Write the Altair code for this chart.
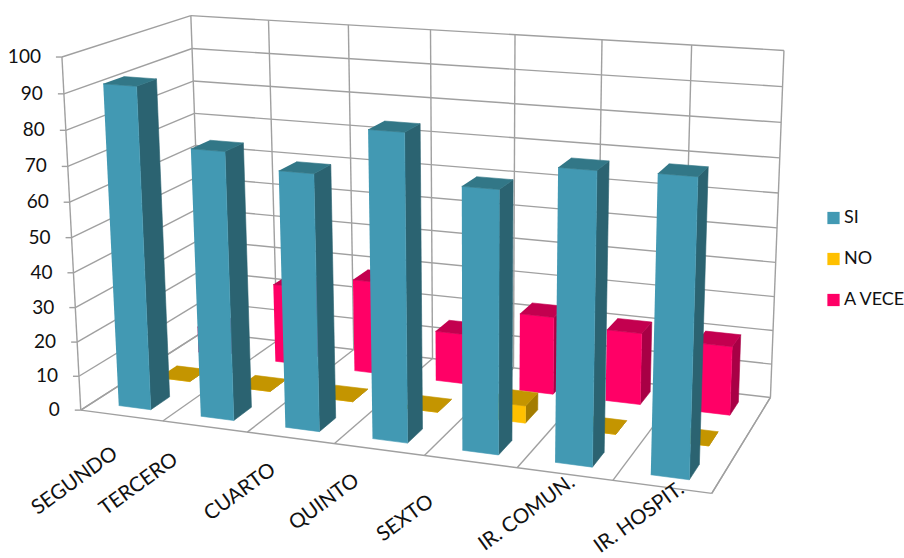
import altair as alt
import numpy as np
import pandas as pd

categories = ["SEGUNDO", "TERCERO", "CUARTO", "QUINTO", "SEXTO", "IR. COMUN.", "IR. HOSPIT."]
series_names = ["SI", "NO", "A VECES"]
si_values = [92, 76, 72, 85, 72, 79, 79.5]
no_values = [0, 0, 0, 0, 5, 0, 0]
a_veces_values = [8, 24, 28, 15, 23, 21, 20]
value_ticks = list(range(0, 101, 10))

face_colors = {
    "SI": ("#4299B3", "#2B6371", "#327787"),
    "NO": ("#FFC000", "#A37C00", "#C49500"),
    "A VECES": ("#FF0066", "#A80045", "#C3004F"),
}
legend_rows = [("SI", 218), ("NO", 259), ("A VECES", 300)]
# Hand-tuned nudges of the slanted category captions from their slot centres.
caption_nudge = [(-6, 36), (-29, 31), (-17, 30), (-22, 29), (-39, 38), (8, 6), (20, 0)]

# Camera: box coordinates (u along categories, v in depth, w in height) to pixels.
anchors = [
    ((0, 0, 0), (78.3, 410)), ((1, 0, 0), (711, 494.3)), ((1, 1, 0), (770, 397.3)),
    ((0, 1, 0), (204, 332.5)), ((0, 0, 1), (63.3, 57.3)), ((0, 1, 1), (190.3, 14.7)),
    ((1, 1, 1), (784.3, 50.3)),
    ((1 / 7, 0, 0), (163, 421)), ((2 / 7, 0, 0), (248, 432)), ((3 / 7, 0, 0), (335, 443)),
    ((4 / 7, 0, 0), (424, 455)), ((5 / 7, 0, 0), (518, 468)), ((6 / 7, 0, 0), (613, 480)),
    ((1 / 7, 1, 1), (268, 20)), ((2 / 7, 1, 1), (348, 26)), ((3 / 7, 1, 1), (430, 31)),
    ((4 / 7, 1, 1), (515, 34)), ((5 / 7, 1, 1), (602, 39)), ((6 / 7, 1, 1), (692, 45)),
]
rows = []
for (u, v, w), (px, py) in anchors:
    rows.append([u, v, w, 1, 0, 0, 0, 0, -px * u, -px * v, -px * w, px])
    rows.append([0, 0, 0, 0, u, v, w, 1, -py * u, -py * v, -py * w, py])
design = np.array(rows, dtype=float)
solution = np.linalg.lstsq(design[:, :11], design[:, 11], rcond=None)[0]
camera = np.append(solution, 1.0).reshape(3, 4)


def project(u, v, w):
    x, y, z = camera @ np.array([u, v, w, 1.0])
    return x / z, y / z


BAR_CENTRES = {"SI": 0.515, "NO": 0.49, "A VECES": 0.5}
BAR_HALF_WIDTH = 0.197 / 7
BAR_HALF_DEPTH = 0.075

polygon_rows = []
face_count = 0


def add_face(corners, colour):
    global face_count
    for i, corner in enumerate(corners):
        x, y = project(*corner)
        polygon_rows.append({"face": face_count, "order": i, "x": x, "y": y, "colour": colour})
    face_count += 1


all_values = {"SI": si_values, "NO": no_values, "A VECES": a_veces_values}
# Painter's order: rear series first, left to right within a series.
for s in [2, 1, 0]:
    name = series_names[s]
    front, side, top = face_colors[name]
    for c, value in enumerate(all_values[name]):
        u0 = (c + BAR_CENTRES[name]) / 7 - BAR_HALF_WIDTH
        u1 = (c + BAR_CENTRES[name]) / 7 + BAR_HALF_WIDTH
        v0 = (s + 0.5) / 3 - BAR_HALF_DEPTH
        v1 = (s + 0.5) / 3 + BAR_HALF_DEPTH
        w = value / 100
        add_face([(u1, v0, 0), (u1, v1, 0), (u1, v1, w), (u1, v0, w)], side)
        add_face([(u0, v0, 0), (u1, v0, 0), (u1, v0, w), (u0, v0, w)], front)
        add_face([(u0, v0, w), (u1, v0, w), (u1, v1, w), (u0, v1, w)], top)
bars = pd.DataFrame(polygon_rows)

grid_rows = []
line_count = 0


def add_grid(p0, p1):
    global line_count
    for i, (x, y) in enumerate((p0, p1)):
        grid_rows.append({"line": line_count, "order": i, "x": x, "y": y})
    line_count += 1


for tick in value_ticks:
    w = tick / 100
    add_grid(project(0, 0, w), project(0, 1, w))
    add_grid(project(0, 1, w), project(1, 1, w))
    fx, fy = project(0, 0, w)
    add_grid((fx - 6, fy), (fx, fy))
add_grid(project(0, 0, 0), project(0, 0, 1))
add_grid(project(0, 0, 0), project(1, 0, 0))
add_grid(project(1, 0, 0), project(1, 1, 0))
for k in range(8):
    add_grid(project(k / 7, 1, 0), project(k / 7, 1, 1))
    add_grid(project(k / 7, 0, 0), project(k / 7, 1, 0))
grid = pd.DataFrame(grid_rows)

tick_frame = pd.DataFrame(
    {
        "label": [str(t) for t in value_ticks],
        "x": [project(0, 0, t / 100)[0] - 21 for t in value_ticks],
        "y": [project(0, 0, t / 100)[1] for t in value_ticks],
    }
)
caption_frame = pd.DataFrame(
    {
        "label": categories,
        "x": [project((c + 0.5) / 7, 0, 0)[0] + caption_nudge[c][0] for c in range(7)],
        "y": [project((c + 0.5) / 7, 0, 0)[1] + caption_nudge[c][1] for c in range(7)],
    }
)
legend_frame = pd.DataFrame(
    {
        "label": [r[0] for r in legend_rows],
        "y": [r[1] for r in legend_rows],
        "colour": [face_colors[r[0]][0] for r in legend_rows],
        "sx": [833.5] * 3,
        "tx": [844] * 3,
    }
)

x_px = alt.X("x:Q", scale=alt.Scale(domain=[0, 904], range=[0, 904]), axis=None)
y_px = alt.Y("y:Q", scale=alt.Scale(domain=[0, 558], range=[0, 558]), axis=None)

grid_layer = alt.Chart(grid).mark_line(color="#A0A0A0", strokeWidth=1.4).encode(
    x=x_px, y=y_px, detail="line:N", order="order:Q"
)
bar_layer = alt.Chart(bars).mark_line(strokeWidth=0.6).encode(
    x=x_px,
    y=y_px,
    detail="face:N",
    order="order:Q",
    fill=alt.Fill("colour:N", scale=None),
    stroke=alt.Stroke("colour:N", scale=None),
)
tick_labels = alt.Chart(tick_frame).mark_text(
    align="right", baseline="middle", font="Lato", fontSize=19, color="#111111"
).encode(x=x_px, y=y_px, text="label:N")
captions = alt.Chart(caption_frame).mark_text(
    align="right", baseline="middle", font="Lato", fontSize=20.5, angle=324, color="#111111"
).encode(x=x_px, y=y_px, text="label:N")
legend_marks = alt.Chart(legend_frame).mark_square(size=150, opacity=1).encode(
    x=alt.X("sx:Q", scale=alt.Scale(domain=[0, 904], range=[0, 904]), axis=None),
    y=y_px,
    fill=alt.Fill("colour:N", scale=None),
)
legend_text = alt.Chart(legend_frame).mark_text(
    align="left", baseline="middle", font="Lato", fontSize=18, color="#111111"
).encode(
    x=alt.X("tx:Q", scale=alt.Scale(domain=[0, 904], range=[0, 904]), axis=None),
    y=y_px,
    text="label:N",
)

chart = (
    alt.layer(grid_layer, bar_layer, tick_labels, captions, legend_marks, legend_text)
    .properties(width=904, height=558, padding=0, autosize=alt.AutoSizeParams(type="none"))
    .configure_view(stroke=None)
)
chart.save("out.html", embed_options={"renderer": "svg", "actions": False})
